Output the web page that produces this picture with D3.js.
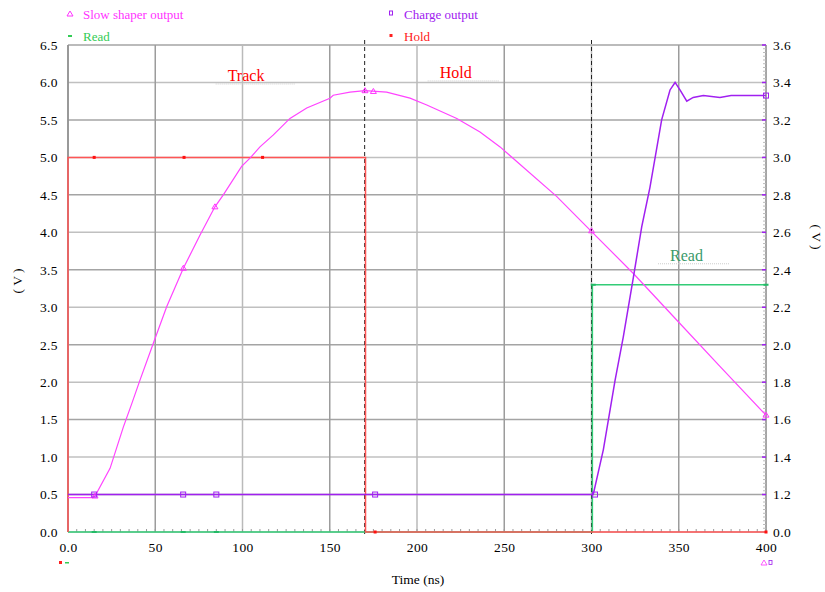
<!DOCTYPE html>
<html>
<head>
<meta charset="utf-8">
<script src="https://cdn.jsdelivr.net/npm/d3@7"></script>
<style>
  body { margin: 0; background: #fff; }
  svg text { font-family: "Liberation Serif", "Times New Roman", serif; }
</style>
</head>
<body>
<svg id="chart" width="825" height="592"></svg>
<script>
// time axis (ns)
const xTicks = [0, 50, 100, 150, 200, 250, 300, 350, 400];
const xTickLabels = ["0.0", "50", "100", "150", "200", "250", "300", "350", "400"];
const leftTicks = [0, 0.5, 1, 1.5, 2, 2.5, 3, 3.5, 4, 4.5, 5, 5.5, 6, 6.5];
const rightTicks = [1.0, 1.2, 1.4, 1.6, 1.8, 2.0, 2.2, 2.4, 2.6, 2.8, 3.0, 3.2, 3.4, 3.6];
const rightTickLabels = ["0.0", "1.2", "1.4", "1.6", "1.8", "2.0", "2.2", "2.4", "2.6", "2.8", "3.0", "3.2", "3.4", "3.6"];

// Slow shaper output (left axis, V)
const slowT = [0, 14, 15.5, 24.1, 31.7, 36.5, 41.3, 48.9, 56.6, 66.1, 75.6, 84.2, 89, 99.5, 104.3, 110,
  117.7, 127.2, 136.8, 150.1, 152, 161.6, 170.2, 182.6, 196, 205.6, 222.8, 236.1, 247.6, 280, 299.2,
  324, 348.8, 373.6, 400];
const slowV = [0.46, 0.46, 0.48, 0.85, 1.40, 1.71, 2.03, 2.52, 3.01, 3.52, 3.96, 4.34, 4.50, 4.88, 4.99, 5.14,
  5.30, 5.52, 5.66, 5.79, 5.83, 5.87, 5.89, 5.87, 5.79, 5.70, 5.52, 5.34, 5.14, 4.48, 4.03,
  3.45, 2.83, 2.21, 1.56];
const slowMarkT = [15.5, 66.1, 84.2, 170.2, 175, 300, 400];
const slowMarkV = [0.48, 3.52, 4.34, 5.89, 5.88, 4.02, 1.56];

// Charge output (right axis, V)
const chargeT = [0, 301, 306.8, 313.5, 318.2, 324, 328.8, 333.5, 340.2, 345, 347.9, 350.7, 354.6, 358.3,
  364.1, 373.6, 380, 400];
const chargeV = [1.2, 1.2, 1.44, 1.81, 2.04, 2.36, 2.63, 2.84, 3.20, 3.36, 3.40, 3.36, 3.30, 3.32,
  3.33, 3.32, 3.33, 3.33];
const chargeMarkT = [15, 66, 85, 176, 302, 400];
const chargeMarkV = [1.2, 1.2, 1.2, 1.2, 1.2, 3.33];

// Read (left axis, V)
const readT = [0, 300.5, 300.5, 400];
const readV = [0, 0, 3.3, 3.3];
const readMarkT = [15, 66, 85, 301, 400];
const readMarkV = [0, 0, 0, 3.3, 3.3];

// Hold (left axis, V)
const holdT = [0, 0, 170.5, 170.5, 400];
const holdV = [0, 5, 5, 0, 0];
const holdMarkT = [15, 66.5, 111.5, 176, 400];
const holdMarkV = [5, 5, 5, 0, 0];

const cursorT = [170, 300];

const legendItems = [
  { name: "Slow shaper output", color: "#ff33ff", mark: "tri" },
  { name: "Charge output", color: "#a020f0", mark: "sq" },
  { name: "Read", color: "#33cc55", mark: "dash" },
  { name: "Hold", color: "#ff2020", mark: "dot" }
];

const notes = [
  { text: "Track", t: 91.5, v: 6.02, color: "#ff0000" },
  { text: "Hold", t: 213, v: 6.06, color: "#ff0000" },
  { text: "Read", t: 345, v: 3.62, color: "#3a9a6a" }
];

const svg = d3.select("#chart");
const MARGIN = { left: 68, right: 766, top: 45, bottom: 532 };

const x = d3.scaleLinear().domain([0, 400]).range([MARGIN.left, MARGIN.right]);
const yL = d3.scaleLinear().domain([0, 6.5]).range([MARGIN.bottom, MARGIN.top]);
const yR = d3.scaleLinear().domain([1.0, 3.6]).range([MARGIN.bottom, MARGIN.top]);

// grid
const grid = svg.append("g");
grid.selectAll(".hg").data(leftTicks).enter().append("line")
  .attr("x1", MARGIN.left).attr("x2", MARGIN.right)
  .attr("y1", d => yL(d)).attr("y2", d => yL(d))
  .attr("stroke", (d, i) => i % 2 ? "#a4a4a4" : "#c0c0c0").attr("stroke-width", 1.5);
grid.selectAll(".vg").data(xTicks).enter().append("line")
  .attr("x1", d => x(d)).attr("x2", d => x(d))
  .attr("y1", MARGIN.top).attr("y2", MARGIN.bottom)
  .attr("stroke", (d, i) => i % 2 ? "#9c9c9c" : "#bababa").attr("stroke-width", 1.5);

// axis frame lines
svg.append("line").attr("x1", MARGIN.left).attr("x2", MARGIN.left)
  .attr("y1", MARGIN.top).attr("y2", MARGIN.bottom).attr("stroke", "#888").attr("stroke-width", 1.5);
svg.append("line").attr("x1", MARGIN.right).attr("x2", MARGIN.right)
  .attr("y1", MARGIN.top).attr("y2", MARGIN.bottom).attr("stroke", "#999").attr("stroke-width", 1.5);

// bottom axis with minor ticks
const xAxis = d3.axisBottom(x).tickValues(xTicks).tickSize(0).tickPadding(10)
  .tickFormat((d, i) => xTickLabels[i]);
const gx = svg.append("g").attr("transform", `translate(0,${MARGIN.bottom})`).call(xAxis);
gx.select(".domain").remove();
gx.selectAll("text").attr("font-size", 13.5).attr("letter-spacing", 0.4).attr("fill", "#000");
svg.append("g").selectAll("line").data(d3.range(0, 401, 5)).enter().append("line")
  .attr("x1", d => x(d)).attr("x2", d => x(d))
  .attr("y1", MARGIN.bottom).attr("y2", MARGIN.bottom - 3)
  .attr("stroke", "#999").attr("stroke-width", 1);

// left axis
const gl = svg.append("g").attr("transform", `translate(${MARGIN.left},0)`)
  .call(d3.axisLeft(yL).tickValues(leftTicks).tickSize(0).tickPadding(10).tickFormat(d3.format(".1f")));
gl.select(".domain").remove();
gl.selectAll("text").attr("font-size", 13.5).attr("letter-spacing", 0.4).attr("fill", "#000");

// right axis with minor ticks
const gr = svg.append("g").attr("transform", `translate(${MARGIN.right},0)`)
  .call(d3.axisRight(yR).tickValues(rightTicks).tickSize(0).tickPadding(7)
    .tickFormat((d, i) => rightTickLabels[i]));
gr.select(".domain").remove();
gr.selectAll("text").attr("font-size", 13.5).attr("letter-spacing", 0.4).attr("fill", "#000");
svg.append("g").selectAll("line").data(d3.range(0, 131)).enter().append("line")
  .attr("x1", MARGIN.right - 3).attr("x2", MARGIN.right)
  .attr("y1", d => yR(1.0 + d * 0.02)).attr("y2", d => yR(1.0 + d * 0.02))
  .attr("stroke", "#bbb").attr("stroke-width", 1);
svg.append("g").selectAll("line").data(rightTicks.slice(1)).enter().append("line")
  .attr("x1", MARGIN.right - 4).attr("x2", MARGIN.right)
  .attr("y1", d => yR(d)).attr("y2", d => yR(d))
  .attr("stroke", "#a020f0").attr("stroke-width", 1.5);

// cursors
svg.append("g").selectAll("line").data(cursorT).enter().append("line")
  .attr("x1", d => x(d)).attr("x2", d => x(d))
  .attr("y1", MARGIN.top - 5).attr("y2", MARGIN.bottom + 3)
  .attr("stroke", "#222").attr("stroke-width", 1).attr("stroke-dasharray", "4,3");

// series
function drawLine(ts, vs, yScale, color, width) {
  const pts = ts.map((t, i) => [t, vs[i]]);
  svg.append("path").datum(pts)
    .attr("d", d3.line().x(d => x(d[0])).y(d => yScale(d[1])))
    .attr("fill", "none").attr("stroke", color).attr("stroke-width", width);
}
function drawMarks(ts, vs, yScale, color, kind) {
  const g = svg.append("g");
  ts.forEach((t, i) => {
    const cx = x(t), cy = yScale(vs[i]);
    if (kind === "tri") {
      g.append("path").attr("d", `M${cx},${cy - 3}L${cx + 3},${cy + 2}L${cx - 3},${cy + 2}Z`)
        .attr("fill", "none").attr("stroke", color).attr("stroke-width", 1);
    } else if (kind === "sq") {
      g.append("rect").attr("x", cx - 2.5).attr("y", cy - 2.5).attr("width", 5).attr("height", 5)
        .attr("fill", "none").attr("stroke", color).attr("stroke-width", 1);
    } else if (kind === "dash") {
      g.append("rect").attr("x", cx - 2.5).attr("y", cy - 1).attr("width", 5).attr("height", 2).attr("fill", color);
    } else {
      g.append("rect").attr("x", cx - 1.5).attr("y", cy - 1.5).attr("width", 3).attr("height", 3).attr("fill", color);
    }
  });
}

drawLine(readT, readV, yL, "#33cc77", 1.5);
drawLine(holdT, holdV, yL, "#ff5555", 1.5);
drawLine(slowT, slowV, yL, "#ff44ff", 1.2);
drawLine(chargeT, chargeV, yR, "#a020f0", 1.5);
drawMarks(readMarkT, readMarkV, yL, "#22bb66", "dash");
drawMarks(holdMarkT, holdMarkV, yL, "#ff1010", "dot");
drawMarks(slowMarkT, slowMarkV, yL, "#ff33ff", "tri");
drawMarks(chargeMarkT, chargeMarkV, yR, "#a020f0", "sq");

// annotations
notes.forEach(n => {
  const tx = x(n.t), ty = yL(n.v);
  const w = n.text.length * 8.5;
  svg.append("line").attr("x1", tx - 12).attr("x2", tx + w + 25)
    .attr("y1", ty + 3).attr("y2", ty + 3)
    .attr("stroke", "#ccc").attr("stroke-width", 1).attr("stroke-dasharray", "1,1");
  svg.append("text").attr("x", tx).attr("y", ty).attr("font-size", 16)
    .attr("fill", n.color).text(n.text);
});

// legend
const legPos = [[70, 15], [391, 15], [70, 37], [391, 37]];
legendItems.forEach((it, i) => {
  const [lx, ly] = legPos[i];
  const g = svg.append("g");
  if (it.mark === "tri") {
    g.append("path").attr("d", `M${lx},${ly - 4}L${lx + 3},${ly + 1}L${lx - 3},${ly + 1}Z`)
      .attr("fill", "none").attr("stroke", it.color);
  } else if (it.mark === "sq") {
    g.append("rect").attr("x", lx - 1.5).attr("y", ly - 4).attr("width", 3).attr("height", 4)
      .attr("fill", "none").attr("stroke", it.color);
  } else if (it.mark === "dash") {
    g.append("rect").attr("x", lx - 2).attr("y", ly - 2).attr("width", 4).attr("height", 2).attr("fill", it.color);
  } else {
    g.append("rect").attr("x", lx - 1.5).attr("y", ly - 3).attr("width", 3).attr("height", 3).attr("fill", it.color);
  }
  g.append("text").attr("x", lx + 13).attr("y", ly + 4).attr("font-size", 13)
    .attr("fill", it.color).text(it.name);
});

// little marker keys under the axis
svg.append("rect").attr("x", 59).attr("y", 561).attr("width", 3).attr("height", 3).attr("fill", "#ff2020");
svg.append("rect").attr("x", 65).attr("y", 562).attr("width", 4).attr("height", 1.5).attr("fill", "#33cc55");
svg.append("path").attr("d", "M764,560L767,565L761,565Z").attr("fill", "none").attr("stroke", "#ff33ff").attr("stroke-width", 0.8);
svg.append("rect").attr("x", 769).attr("y", 560.5).attr("width", 3).attr("height", 4)
  .attr("fill", "none").attr("stroke", "#a020f0").attr("stroke-width", 0.8);

// axis titles
svg.append("text").attr("x", 418).attr("y", 584).attr("text-anchor", "middle")
  .attr("font-size", 13.5).text("Time (ns)");
svg.append("text").attr("transform", "translate(22,281) rotate(-90)").attr("text-anchor", "middle")
  .attr("font-size", 13.5).text("( V )");
svg.append("text").attr("transform", "translate(812,237) rotate(90)").attr("text-anchor", "middle")
  .attr("font-size", 13.5).text("( V )");
</script>
</body>
</html>
